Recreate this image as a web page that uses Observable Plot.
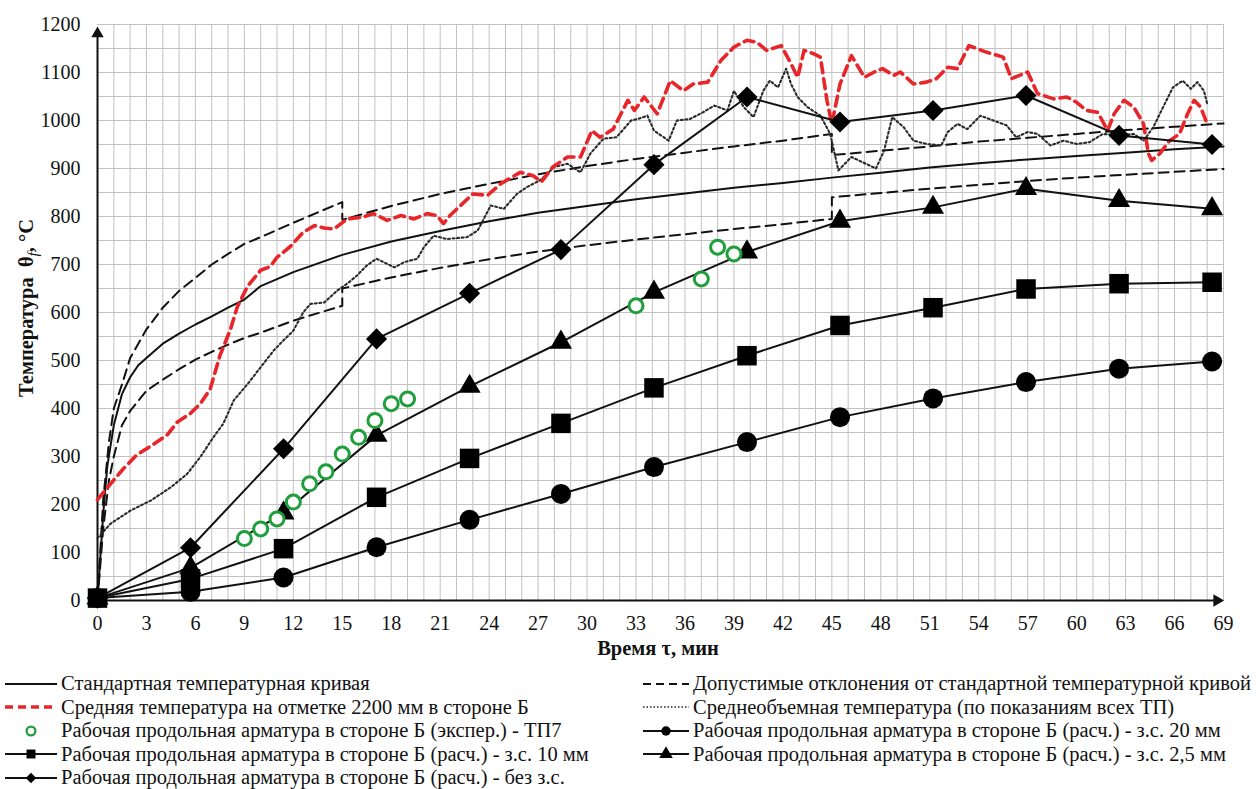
<!DOCTYPE html>
<html>
<head>
<meta charset="utf-8">
<script src="https://cdn.jsdelivr.net/npm/d3@7"></script>
<script src="https://cdn.jsdelivr.net/npm/@observablehq/plot@0.6"></script>
<style>
  body { margin: 0; background: #fff; font-family: "Liberation Serif", Tinos, "Times New Roman", "DejaVu Serif", serif; }
  #chart svg { display: block; }
  .legend { position: relative; height: 121px; font-size: 20.5px; color: #111; }
  .row { position: absolute; height: 23px; display: flex; align-items: center; white-space: nowrap; }
  .row svg { flex: none; margin-right: 3px; }
</style>
</head>
<body>
<div id="chart"></div>
<div class="legend" id="legend"></div>
<script>
const FONT = "'Liberation Serif', Tinos, 'Times New Roman', 'DejaVu Serif', serif";

// ---- Axis ticks ----
const xTicks = d3.range(0, 70, 3);
const yTicks = d3.range(0, 1201, 100);

// ---- Standard fire curve ----
const stdTime = [0, 0.35, 0.6, 1, 1.5, 2, 2.5, 3, 4, 5, 6, 7, 8, 9, 10, 12, 15, 18, 21, 24, 27, 30, 33, 36, 39, 42, 45, 48, 51, 54, 57, 60, 63, 66, 69];
const stdTemp = [0, 180, 280, 365, 430, 465, 490, 505, 535, 556, 575, 592, 610, 627, 655, 684, 720, 748, 770, 790, 808, 822, 836, 848, 860, 870, 881, 891, 902, 911, 919, 926, 933, 940, 946];

// ---- Permitted deviations (upper / lower), steps at 15 and 45 min ----
const devTime = [0, 0.35, 0.7, 1, 1.5, 2, 3, 4, 5, 6, 7, 8, 9, 10, 12, 15, 15, 18, 21, 24, 27, 30, 33, 36, 39, 42, 45, 45, 48, 51, 54, 57, 60, 63, 66, 69];
const devUpper = [0, 210, 330, 400, 450, 505, 565, 610, 645, 672, 700, 722, 743, 757, 787, 830, 793, 822, 847, 868, 888, 905, 920, 933, 946, 958, 972, 928, 937, 946, 956, 964, 972, 980, 987, 994];
const devLower = [0, 150, 250, 300, 365, 395, 437, 460, 482, 502, 518, 533, 547, 558, 583, 614, 650, 673, 693, 711, 727, 740, 752, 763, 774, 784, 795, 840, 849, 858, 866, 874, 881, 887, 893, 899];

// ---- Mean temperature at 2200 mm, side B ----
const redTime = [0, 0.8, 1.6, 2.4, 3.45, 4.27, 4.9, 5.7, 6.3, 6.9, 7.5, 8.15, 8.56, 9.2, 10.0, 10.6, 11.0, 11.8, 12.6, 13.3, 13.9, 14.5, 15.3, 16.3, 16.9, 17.75, 18.6, 19.4, 20.2, 20.8, 21.2, 21.6, 23.0, 23.9, 24.7, 25.9, 26.7, 27.2, 27.9, 28.8, 29.6, 30.3, 30.8, 31.6, 32.5, 32.9, 33.5, 34.3, 35.1, 35.9, 36.5, 37.4, 38.2, 39.0, 39.8, 40.4, 41.0, 41.9, 42.5, 42.9, 43.3, 43.9, 44.3, 44.7, 45.0, 45.5, 46.2, 47.0, 47.6, 48.1, 48.8, 49.2, 50.0, 50.8, 51.4, 52.1, 52.7, 53.4, 54.5, 55.5, 56.0, 57.0, 57.6, 58.6, 59.4, 60.0, 60.6, 61.3, 61.9, 62.3, 62.9, 63.5, 64.1, 64.4, 64.6, 65.1, 65.7, 66.3, 66.8, 67.2, 67.6, 68.0];
const redTemp = [210, 243, 275, 303, 326, 345, 372, 390, 410, 440, 510, 565, 611, 655, 688, 696, 715, 737, 767, 781, 776, 774, 795, 799, 806, 792, 802, 795, 806, 802, 785, 802, 847, 844, 868, 892, 885, 872, 903, 924, 924, 979, 965, 982, 1042, 1021, 1049, 1014, 1083, 1062, 1076, 1080, 1125, 1153, 1167, 1163, 1146, 1156, 1118, 1090, 1146, 1139, 1132, 1042, 993, 1076, 1135, 1090, 1101, 1108, 1094, 1101, 1076, 1080, 1087, 1111, 1108, 1156, 1142, 1132, 1087, 1101, 1056, 1045, 1049, 1038, 1021, 1017, 979, 1014, 1042, 1028, 993, 931, 917, 931, 958, 972, 1014, 1042, 1028, 993];

// ---- Volume-average temperature (all thermocouples) ----
const avgTime = [0, 0.8, 2.0, 3.25, 4.5, 5.5, 6.3, 7.1, 7.7, 8.35, 9.2, 10.0, 10.8, 11.4, 12.0, 12.6, 13.05, 13.9, 14.7, 15.3, 15.9, 16.5, 17.1, 18.2, 18.8, 19.6, 20.0, 20.6, 21.4, 22.65, 23.3, 24.1, 24.9, 25.7, 26.3, 27.1, 28.0, 28.8, 29.6, 30.2, 31.0, 31.8, 32.7, 33.1, 33.7, 34.1, 35.0, 35.5, 36.3, 37.1, 37.8, 38.6, 39.0, 39.6, 40.2, 40.8, 41.2, 41.7, 42.2, 42.5, 42.9, 43.5, 44.3, 44.9, 45.4, 46.2, 47.7, 48.2, 48.7, 49.4, 50.0, 50.8, 51.7, 52.1, 52.7, 53.3, 54.1, 54.9, 55.7, 56.3, 57.0, 57.6, 58.4, 59.2, 60.0, 60.8, 61.6, 62.7, 63.5, 64.1, 64.7, 65.3, 65.9, 66.5, 67.0, 67.4, 67.8, 68.0];
const avgTemp = [130, 160, 187, 208, 236, 264, 299, 340, 368, 417, 451, 486, 521, 542, 562, 600, 618, 621, 646, 660, 677, 698, 712, 694, 705, 712, 736, 760, 753, 757, 771, 823, 816, 847, 861, 875, 903, 910, 892, 931, 962, 965, 1000, 1003, 1010, 979, 958, 1000, 1003, 1017, 1031, 1021, 1062, 1028, 1007, 1062, 1083, 1069, 1108, 1076, 1049, 1028, 1010, 972, 896, 924, 900, 937, 1007, 986, 958, 951, 948, 976, 993, 982, 1010, 1000, 990, 965, 976, 972, 948, 958, 951, 955, 972, 969, 972, 958, 986, 1028, 1069, 1083, 1066, 1080, 1062, 1035];

// ---- Reinforcement, side B: experiment (TP7) ----
const expTime = [9, 10, 11, 12, 13, 14, 15, 16, 17, 18, 19, 33, 37, 38, 39];
const expTemp = [129, 149, 170, 205, 243, 268, 305, 340, 375, 410, 420, 614, 670, 736, 722];

// ---- Reinforcement, side B: calculation for several protective layers ----
const calcTime = [0, 5.7, 11.4, 17.1, 22.8, 28.4, 34.1, 39.8, 45.5, 51.2, 56.9, 62.6, 68.3];
const calc20 = [5, 18, 48, 111, 168, 222, 278, 330, 382, 421, 455, 483, 498];
const calc10 = [5, 45, 108, 215, 296, 369, 443, 510, 573, 610, 649, 660, 663];
const calc25 = [5, 68, 182, 344, 446, 538, 642, 726, 790, 819, 858, 833, 816];
const calc0  = [5, 110, 316, 545, 640, 731, 908, 1049, 997, 1021, 1052, 969, 950];

const pts = (ts, vs) => ts.map((t, i) => ({t, v: vs[i]}));

const RED = "#e8262a";
const GREEN = "#1f9e3c";
const GRID = "#c2c2c2";

const lineOpts = {x: "t", y: "v", stroke: "#111", strokeWidth: 2};
const dotOpts = {x: "t", y: "v", fill: "#000", stroke: "none"};

const chart = Plot.plot({
  width: 1256,
  height: 668,
  marginLeft: 97,
  marginRight: 33,
  marginTop: 24,
  marginBottom: 68,
  style: {fontFamily: FONT, fontSize: "20px", color: "#111", background: "#fff"},
  x: {domain: [0, 69]},
  y: {domain: [0, 1200]},
  marks: [
    Plot.gridX(d3.range(1, 70, 1), {stroke: GRID, strokeOpacity: 1, strokeWidth: 1}),
    Plot.gridY(d3.range(50, 1201, 50), {stroke: GRID, strokeOpacity: 1, strokeWidth: 1}),
    Plot.axisX(xTicks, {tickSize: 0, tickPadding: 15, label: null, fontSize: 20, tickFormat: d => String(d)}),
    Plot.axisY(yTicks, {tickSize: 0, tickPadding: 17, label: null, fontSize: 20, tickFormat: d => String(d)}),

    // axis lines with arrowheads
    Plot.ruleX([0], {y1: 0, y2: 1186, stroke: "#111", strokeWidth: 2}),
    Plot.ruleY([0], {x1: 0, x2: 68.6, stroke: "#111", strokeWidth: 2}),
    Plot.dot([{t: 0, v: 1181}], {x: "t", y: "v", symbol: "triangle", r: 4.6, fill: "#111", stroke: "none"}),
    Plot.dot([{t: 68.6, v: 0}], {x: "t", y: "v", symbol: "triangle", r: 4.6, fill: "#111", stroke: "none", rotate: 90}),

    // deviation band edges and the standard curve
    Plot.line(pts(devTime, devUpper), {...lineOpts, strokeWidth: 2, strokeDasharray: "10,6"}),
    Plot.line(pts(devTime, devLower), {...lineOpts, strokeWidth: 2, strokeDasharray: "10,6"}),
    Plot.line(pts(stdTime, stdTemp), {...lineOpts, strokeWidth: 2}),

    // measured gas temperatures
    Plot.line(pts(avgTime, avgTemp), {...lineOpts, stroke: "#2a2a2a", strokeWidth: 2.1, strokeDasharray: "2,2.6"}),
    Plot.line(pts(redTime, redTemp), {...lineOpts, stroke: RED, strokeWidth: 3.6, strokeDasharray: "10,6"}),

    // calculated reinforcement temperatures
    Plot.line(pts(calcTime, calc20), lineOpts),
    Plot.line(pts(calcTime, calc10), lineOpts),
    Plot.line(pts(calcTime, calc25), lineOpts),
    Plot.line(pts(calcTime, calc0), lineOpts),
    Plot.dot(pts(calcTime, calc20), {...dotOpts, symbol: "circle", r: 10}),
    Plot.dot(pts(calcTime, calc10), {...dotOpts, symbol: "square", r: 11}),
    Plot.dot(pts(calcTime, calc25), {...dotOpts, symbol: "triangle", r: 8.2}),
    Plot.dot(pts(calcTime, calc0), {...dotOpts, symbol: "diamond2", r: 9.5}),

    // experiment
    Plot.dot(pts(expTime, expTemp), {x: "t", y: "v", symbol: "circle", r: 7, fill: "#fff", stroke: GREEN, strokeWidth: 3})
  ]
});

// axis titles
const svg = d3.select(chart);
svg.append("text")
  .attr("x", 658).attr("y", 655)
  .attr("text-anchor", "middle")
  .attr("font-family", FONT)
  .attr("font-size", 20.5).attr("font-weight", "bold").attr("fill", "#111")
  .text("Время τ, мин");

const yl = svg.append("text")
  .attr("transform", "translate(33,308) rotate(-90)")
  .attr("text-anchor", "middle")
  .attr("font-family", FONT)
  .attr("font-size", 20.5).attr("font-weight", "bold").attr("fill", "#111");
yl.append("tspan").text("Температура  θ");
yl.append("tspan").attr("font-style", "italic").attr("font-weight", "normal").attr("dy", 5).attr("font-size", 15).text("f");
yl.append("tspan").attr("dy", -5).text(", °C");

document.getElementById("chart").appendChild(chart);

// ---- Legend ----
const legendRows = [
  {col: 0, row: 0, kind: "solid", text: "Стандартная температурная кривая"},
  {col: 0, row: 1, kind: "red", text: "Средняя температура на отметке 2200 мм в стороне Б"},
  {col: 0, row: 2, kind: "green", text: "Рабочая продольная арматура в стороне Б (экспер.) - ТП7"},
  {col: 0, row: 3, kind: "square", text: "Рабочая продольная арматура в стороне Б (расч.) - з.с.  10 мм"},
  {col: 0, row: 4, kind: "diamond", text: "Рабочая продольная арматура в стороне Б (расч.) - без з.с."},
  {col: 1, row: 0, kind: "dashed", text: "Допустимые отклонения от стандартной температурной кривой"},
  {col: 1, row: 1, kind: "dotted", text: "Среднеобъемная температура (по показаниям всех ТП)"},
  {col: 1, row: 2, kind: "circle", text: "Рабочая продольная арматура в стороне Б (расч.) - з.с.  20 мм"},
  {col: 1, row: 3, kind: "triangle", text: "Рабочая продольная арматура в стороне Б (расч.) - з.с.  2,5 мм"}
];

function swatch(kind, w) {
  const s = d3.create("svg").attr("width", w).attr("height", 20);
  const line = (dash, color, width) => s.append("line")
    .attr("x1", 1).attr("x2", w - 1).attr("y1", 10).attr("y2", 10)
    .attr("stroke", color).attr("stroke-width", width)
    .attr("stroke-dasharray", dash);
  const c = w / 2;
  if (kind === "solid") line(null, "#111", 2);
  if (kind === "red") line("8,5", RED, 3.5);
  if (kind === "dashed") line("8,5", "#111", 2);
  if (kind === "dotted") line("1.5,2", "#222", 1.6);
  if (kind === "green") s.append("circle").attr("cx", c).attr("cy", 10).attr("r", 4.4)
    .attr("fill", "#fff").attr("stroke", GREEN).attr("stroke-width", 2.3);
  if (["square", "diamond", "circle", "triangle"].includes(kind)) {
    line(null, "#111", 2);
    const sym = {square: d3.symbolSquare, diamond: d3.symbolDiamond2, circle: d3.symbolCircle, triangle: d3.symbolTriangle}[kind];
    const size = {square: 80, diamond: 70, circle: 70, triangle: 80}[kind];
    s.append("path").attr("transform", `translate(${c},10)`).attr("d", d3.symbol(sym, size)()).attr("fill", "#000");
  }
  return s.node();
}

const legend = document.getElementById("legend");
for (const r of legendRows) {
  const div = document.createElement("div");
  div.className = "row";
  div.style.left = (r.col === 0 ? 4 : 642) + "px";
  div.style.top = (4 + r.row * 23.6) + "px";
  div.appendChild(swatch(r.kind, r.col === 0 ? 54 : 48));
  const span = document.createElement("span");
  span.textContent = r.text;
  div.appendChild(span);
  legend.appendChild(div);
}
</script>
</body>
</html>
